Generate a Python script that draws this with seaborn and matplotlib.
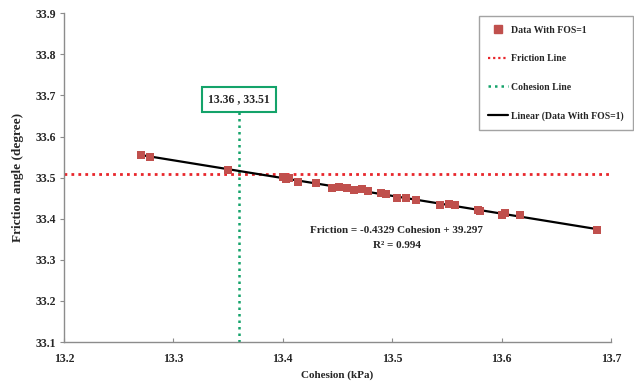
import matplotlib
matplotlib.use("Agg")
import matplotlib.pyplot as plt
import seaborn as sns
import pandas as pd
from matplotlib.lines import Line2D

# Cohesion / friction-angle pairs that give a factor of safety of 1
cohesion = [13.270, 13.279, 13.350, 13.400, 13.403, 13.406, 13.414, 13.430,
            13.445, 13.451, 13.459, 13.465, 13.472, 13.478, 13.490, 13.494,
            13.504, 13.513, 13.522, 13.544, 13.552, 13.557, 13.578, 13.580,
            13.600, 13.603, 13.617, 13.687]
friction = [33.555, 33.550, 33.519, 33.502, 33.496, 33.499, 33.490, 33.486,
            33.476, 33.478, 33.474, 33.470, 33.472, 33.467, 33.462, 33.460,
            33.451, 33.450, 33.446, 33.433, 33.437, 33.434, 33.422, 33.418,
            33.408, 33.414, 33.408, 33.372]

friction_value = 33.51
cohesion_value = 13.36
x_ticks = [13.2, 13.3, 13.4, 13.5, 13.6, 13.7]
y_ticks = [33.1, 33.2, 33.3, 33.4, 33.5, 33.6, 33.7, 33.8, 33.9]
fit_text = "Friction = -0.4329 Cohesion + 39.297\nR\u00b2 = 0.994"

df = pd.DataFrame({"Cohesion": cohesion, "Friction": friction})

sns.set_theme(style="white")
plt.rcParams["font.family"] = ["Liberation Serif", "DejaVu Serif"]
plt.rcParams["font.weight"] = "bold"

red = "#C0504D"
dot_red = "#E8262B"
green = "#14A36A"
spine_col = "#8C8C8C"

fig = plt.figure(figsize=(6.34, 3.86), dpi=100)
ax = fig.add_axes([64 / 634, 1 - 342 / 386, (611 - 64) / 634, (342 - 13.3) / 386])

ax.set_xlim(13.2, 13.7)
ax.set_ylim(33.1, 33.9)

# friction and cohesion reference lines
ax.axhline(friction_value, color=dot_red, lw=2.0, linestyle=(0, (1, 1.5)), zorder=1)
top_frac = (33.66 - 33.1) / (33.9 - 33.1)
ax.axvline(cohesion_value, ymin=0, ymax=top_frac, color=green, lw=1.8,
           linestyle=(0, (1, 1.6)), zorder=1)

# linear trend line
sns.regplot(data=df, x="Cohesion", y="Friction", scatter=False, ci=None, ax=ax,
            color="black", line_kws={"lw": 1.6, "zorder": 2})

sns.scatterplot(data=df, x="Cohesion", y="Friction", marker="s", s=36,
                color=red, edgecolor=red, linewidth=0, ax=ax, zorder=3)

ax.set_xticks(x_ticks)
ax.set_yticks(y_ticks)
ax.set_xticklabels([f"{v:.1f}" for v in x_ticks], fontsize=8.5, fontweight="bold")
ax.set_yticklabels([f"{v:.1f}" for v in y_ticks], fontsize=8.5, fontweight="bold")
ax.tick_params(axis="y", direction="out", length=3, width=0.8, color=spine_col, pad=3, left=True)
ax.tick_params(axis="x", direction="in", length=3, width=0.8, color=spine_col, pad=8, bottom=True)

for side in ["top", "right"]:
    ax.spines[side].set_visible(False)
for side in ["left", "bottom"]:
    ax.spines[side].set_color(spine_col)
    ax.spines[side].set_linewidth(1.0)

ax.set_xlabel("Cohesion (kPa)", fontsize=8, fontweight="bold", labelpad=4)
ax.set_ylabel("Friction angle (degree)", fontsize=9.5, fontweight="bold", labelpad=8)

# intersection label
ax.text(cohesion_value, 33.691, f"{cohesion_value:.2f} , {friction_value:.2f}",
        ha="center", va="center", fontsize=8.5, fontweight="bold",
        bbox=dict(boxstyle="square,pad=0.55", fc="white", ec=green, lw=1.5))

# fit equation
ax.text(13.504, 33.353, fit_text, ha="center", va="center", fontsize=8,
        fontweight="bold", linespacing=1.75)

handles = [
    Line2D([], [], marker="s", color=red, linestyle="none", markersize=5.5),
    Line2D([], [], color=dot_red, lw=1.6, linestyle=(0, (1, 1.3))),
    Line2D([], [], color=green, lw=1.8, linestyle=(0, (1, 1.6))),
    Line2D([], [], color="black", lw=1.6),
]
labels = ["Data With FOS=1", "Friction Line", "Cohesion Line", "Linear (Data With FOS=1)"]
leg = fig.legend(handles, labels, loc="upper right",
                 bbox_to_anchor=(633 / 634, 1 - 16 / 386), frameon=True,
                 fancybox=False, edgecolor=spine_col, fontsize=7,
                 handlelength=2.0, handletextpad=0.3, labelspacing=2.0,
                 borderpad=1.0, borderaxespad=0)
for t in leg.get_texts():
    t.set_fontweight("bold")
leg.get_frame().set_linewidth(1.0)

fig.savefig("out.png", dpi=100)
